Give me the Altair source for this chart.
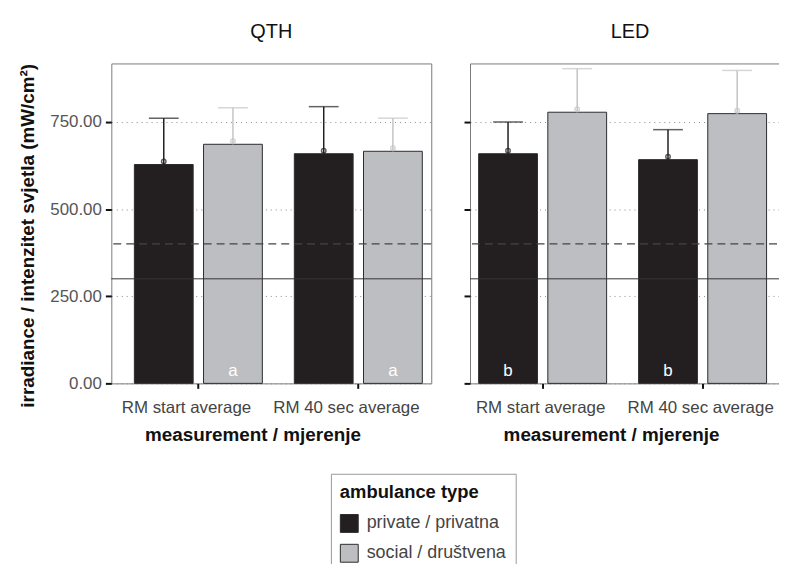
import altair as alt
import pandas as pd

lights = ["QTH", "QTH", "QTH", "QTH", "LED", "LED", "LED", "LED"]
measurements = ["RM start average", "RM start average", "RM 40 sec average", "RM 40 sec average"] * 2
ambulance = ["private / privatna", "social / društvena"] * 4
means = [628, 686, 659, 666, 659, 778, 642, 774]
uppers = [761, 791, 794, 761, 750, 903, 728, 898]
letters = ["", "a", "", "a", "b", "", "b", ""]

meas_order = ["RM start average", "RM 40 sec average"]
type_order = ["private / privatna", "social / društvena"]
fill_colors = ["#231f20", "#bdbec2"]
whisker_colors = ["#231f20", "#c4c4c4"]
y_ticks = [0, 250, 500, 750]
ref_dashed = [400]
ref_solid = [300]

df = pd.DataFrame({
    "light": lights,
    "measurement": measurements,
    "type": ambulance,
    "mean": means,
    "upper": uppers,
    "letter": letters,
})
df["wcol"] = df["type"].map(dict(zip(type_order, whisker_colors)))

FONT = "Liberation Sans"
YTITLE = "irradiance / intenzitet svjetla (mW/cm²)"


def y_axis(first):
    kw = dict(values=y_ticks, format=".2f", labelFont=FONT, labelFontSize=17,
              labelColor="#555", labelPadding=4, tickSize=6, tickWidth=2,
              tickColor="#111", domain=False, grid=True, gridColor="#888",
              gridDash=[1, 4], gridWidth=1, labels=first)
    if first:
        kw.update(title=YTITLE, titleFont=FONT, titleFontSize=19, titleFontWeight="bold",
                  titleColor="#111", titlePadding=12, titleAnchor="end")
    return alt.Axis(**kw)


def panel(light, first, width, align, label_offset):
    d = df[df.light == light]
    xs = alt.X("measurement:N", sort=meas_order,
               scale=alt.Scale(paddingInner=0.2, paddingOuter=0.1, align=align),
               axis=alt.Axis(title="measurement / mjerenje", labelAngle=0, labelFont=FONT,
                             labelFontSize=17, labelColor="#444", labelPadding=11,
                             labelOffset=label_offset, tickSize=5, tickWidth=2,
                             tickColor="#111", domain=False, grid=False, titleFont=FONT,
                             titleFontSize=19, titleFontWeight="bold", titleColor="#111",
                             titlePadding=11, titleX=142))
    xo = alt.XOffset("type:N", sort=type_order,
                     scale=alt.Scale(paddingInner=0.15, paddingOuter=0))
    ysc = alt.Scale(domain=[0, 918], nice=False)
    ytitle = YTITLE if first else None

    def Y(field):
        return alt.Y(field, scale=ysc, axis=y_axis(first), title=ytitle)

    wcol = alt.Color("wcol:N", scale=None)

    bars = alt.Chart(d).mark_bar(stroke="#2b2b2b", strokeWidth=1).encode(
        x=xs, xOffset=xo, y=Y("mean:Q"),
        fill=alt.Fill("type:N", sort=type_order,
                      scale=alt.Scale(domain=type_order, range=fill_colors),
                      legend=alt.Legend(title="ambulance type", orient="none",
                                        legendX=221, legendY=413, direction="vertical",
                                        titleFont=FONT, titleFontSize=18.5,
                                        titleFontWeight="bold", titleColor="#111",
                                        titlePadding=13, labelFont=FONT, labelFontSize=18,
                                        labelColor="#444", labelOffset=8,
                                        symbolType="square", symbolSize=324,
                                        symbolStrokeColor="#2b2b2b", symbolStrokeWidth=1,
                                        rowPadding=7, padding=9, strokeColor="#999",
                                        fillColor="white")),
    )
    dashed = alt.Chart(pd.DataFrame({"v": ref_dashed})).mark_rule(
        color="#444", strokeWidth=1.3, strokeDash=[8, 5]).encode(y=Y("v:Q"))
    solid = alt.Chart(pd.DataFrame({"v": ref_solid})).mark_rule(
        color="#333", strokeWidth=1).encode(y=Y("v:Q"))
    whisk = alt.Chart(d).mark_rule(strokeWidth=1.5).encode(
        x=xs, xOffset=xo, y=Y("mean:Q"), y2="upper:Q", color=wcol)
    caps = alt.Chart(d).mark_tick(size=30, thickness=1.5).encode(
        x=xs, xOffset=xo, y=Y("upper:Q"), color=wcol)
    pts = alt.Chart(d).mark_point(shape="circle", filled=False, size=20, strokeWidth=1.5,
                                  yOffset=-3).encode(
        x=xs, xOffset=xo, y=Y("mean:Q"), color=wcol)
    txt = alt.Chart(d).transform_filter("datum.letter != ''").mark_text(
        color="white", font=FONT, fontSize=17, baseline="alphabetic", dy=-7).encode(
        x=xs, xOffset=xo, y=alt.datum(0), text="letter:N")

    return alt.layer(bars, dashed, solid, whisk, caps, pts, txt).properties(
        width=width, height=322,
        title=alt.TitleParams(text=light, font=FONT, fontSize=20, fontWeight="normal",
                              color="#111", offset=22, anchor="middle"))


left = panel("QTH", True, 322, 0.72, -12)
right = panel("LED", False, 322, 0.27, -2)

chart = alt.hconcat(left, right, spacing=29).resolve_scale(
    x="independent", xOffset="independent", y="independent", fill="shared"
).properties(
    padding={"left": 10, "top": 11, "right": -13, "bottom": -12},
    background="white",
).configure_view(stroke="#7a7a7a", strokeWidth=1)

chart.save("out.html", embed_options={"renderer": "svg", "actions": False})
